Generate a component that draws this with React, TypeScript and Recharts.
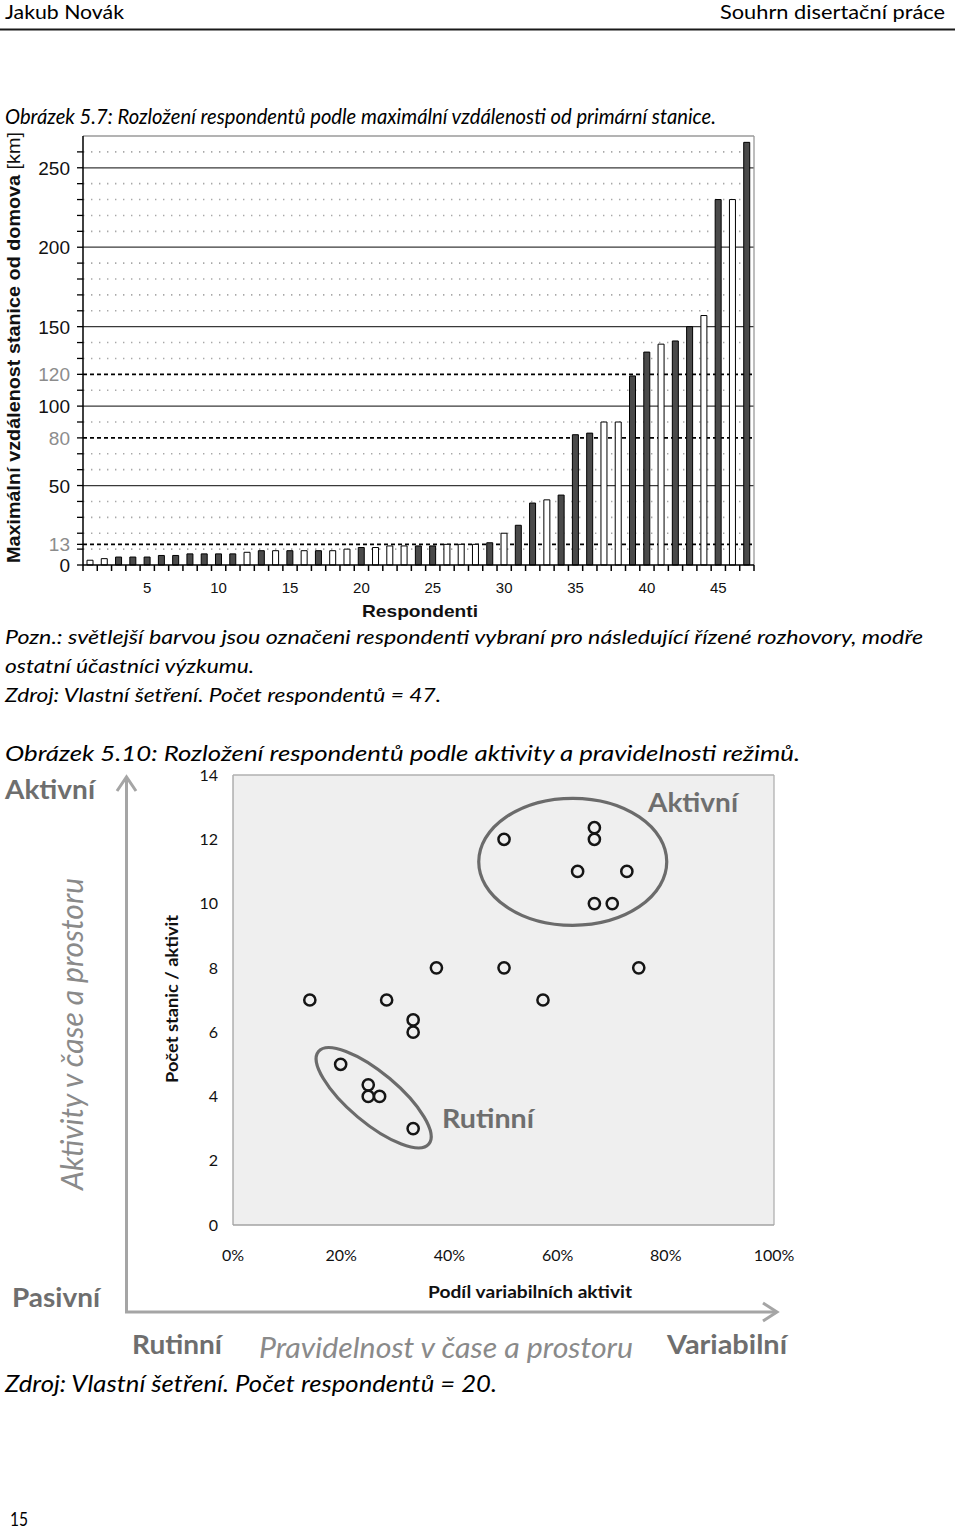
import React from 'react';
import {
  BarChart, Bar, XAxis, YAxis, Cell, ReferenceLine, CartesianGrid,
  ScatterChart, Scatter, ReferenceDot,
} from 'recharts';

// ---------- Figure 5.7 data ----------
const respondents = [
  1, 2, 3, 4, 5, 6, 7, 8, 9, 10, 11, 12, 13, 14, 15, 16, 17, 18, 19, 20, 21, 22, 23, 24,
  25, 26, 27, 28, 29, 30, 31, 32, 33, 34, 35, 36, 37, 38, 39, 40, 41, 42, 43, 44, 45, 46, 47,
];
const maxDistanceKm = [
  3, 4, 5, 5, 5, 6, 6, 7, 7, 7, 7, 8, 9, 9, 9, 9, 9, 9, 10, 11, 11, 12, 12, 12,
  12, 13, 13, 13, 14, 20, 25, 39, 41, 44, 82, 83, 90, 90, 119, 134, 139, 141, 150, 157, 230, 230, 266,
];
// L = lighter (selected for interviews), D = other participants
const interviewGroup = [
  'L', 'L', 'D', 'D', 'D', 'D', 'D', 'D', 'D', 'D', 'D', 'L', 'D', 'L', 'D', 'L', 'D', 'L', 'L', 'D', 'L', 'L', 'L', 'D',
  'D', 'L', 'L', 'L', 'D', 'L', 'D', 'D', 'L', 'D', 'D', 'D', 'L', 'L', 'D', 'D', 'L', 'D', 'D', 'L', 'D', 'L', 'D',
];
const barYLabels = [0, 13, 50, 80, 100, 120, 150, 200, 250];
const barYTicks = [0, 10, 13, 20, 30, 40, 50, 60, 70, 80, 90, 100, 110, 120, 130, 140, 150, 160, 170, 180, 190, 200, 210, 220, 230, 240, 250, 260];
const solidLevels = [50, 100, 150, 200, 250];
const dashedLevels = [13, 80, 120];
const dottedLevels = [10, 20, 30, 40, 60, 70, 90, 110, 130, 140, 160, 170, 180, 190, 210, 220, 230, 240, 260];
const barXLabels = [5, 10, 15, 20, 25, 30, 35, 40, 45];
const barYMax = 270;

// ---------- Figure 5.10 data ----------
const variableShare = [14.2, 28.4, 33.3, 33.3, 37.6, 19.9, 25.0, 25.0, 27.1, 33.3, 50.1, 66.8, 66.8, 63.7, 72.8, 66.8, 70.1, 50.1, 75.0, 57.3];
const stationCount = [7, 7, 6.38, 6, 8, 5, 4.36, 4, 4, 3, 12, 12.36, 12, 11, 11, 10, 10, 8, 8, 7];
const scatterXTicks = [0, 20, 40, 60, 80, 100];
const scatterYTicks = [0, 2, 4, 6, 8, 10, 12, 14];
const clusterNames = ['Aktivní', 'Rutinní'];
const clusterCenterX = [62.8, 26.0];
const clusterCenterY = [11.3, 3.96];

const barData = respondents.map((n, i) => ({ n, km: maxDistanceKm[i], group: interviewGroup[i] }));
const barXTicks = [...respondents.map((n) => n - 0.5), respondents[respondents.length - 1] + 0.5, ...barXLabels];
const scatterData = variableShare.map((x, i) => ({ x, y: stationCount[i] }));

const ARIAL = '"Liberation Sans", Arial, sans-serif';
const CAL = 'Lato, "Open Sans", sans-serif';

const BarYTick = (props: any) => {
  const { x, y, payload } = props;
  const v = payload.value;
  if (!barYLabels.includes(v)) return null;
  return (
    <text x={x} y={y} dy={7} textAnchor="end" fontSize={19} fontFamily={ARIAL}
      fill={dashedLevels.includes(v) ? '#8c8c8c' : '#111'}>{v}</text>
  );
};

const BarXTick = (props: any) => {
  const { x, y, payload } = props;
  const v = payload.value;
  if (v % 1 !== 0) {
    return <line x1={x} x2={x} y1={y} y2={y + 6} stroke="#000" strokeWidth={1.5} />;
  }
  return (
    <text x={x} y={y + 28} textAnchor="middle" fontSize={15} fontFamily={ARIAL} fill="#111">{v}</text>
  );
};

const RingShape = (props: any) => {
  const { cx, cy } = props;
  if (cx == null || cy == null) return null;
  return <circle cx={cx} cy={cy} r={5.6} fill="none" stroke="#151515" strokeWidth={2.5} />;
};

const ellipseShape = (rx: number, ry: number, angle: number) => (props: any) => {
  const { cx, cy } = props;
  if (cx == null || cy == null) return null;
  return (
    <ellipse cx={cx} cy={cy} rx={rx} ry={ry} transform={`rotate(${angle} ${cx} ${cy})`}
      fill="none" stroke="#6b6b6b" strokeWidth={3.2} />
  );
};

type TP = {
  x: number; y: number; w: number; size: number; weight?: number; italic?: boolean;
  color?: string; family?: string; rotate?: boolean; children: React.ReactNode;
};
const T = ({ x, y, w, size, weight = 400, italic = false, color = '#000', family = CAL, rotate = false, children }: TP) => (
  <text x={x} y={y} textLength={w} lengthAdjust="spacingAndGlyphs" fontSize={size}
    fontWeight={weight} fontStyle={italic ? 'italic' : 'normal'} fill={color} fontFamily={family}
    transform={rotate ? `rotate(-90 ${x} ${y})` : undefined}>{children}</text>
);

export default function App() {
  const gray = '#6e6e6e';
  const light = '#8a8a8a';
  const arrow = '#a5a5a5';
  const under = { zIndex: -10 } as any;
  return (
    <div style={{ position: 'absolute', left: 0, top: 0, width: 960, height: 1530, background: '#fff', overflow: 'hidden' }}>
      {/* Figure 5.7 */}
      <div style={{ position: 'absolute', left: 0, top: 120 }}>
        <BarChart width={770} height={500} data={barData} margin={{ top: 16, right: 16, left: 0, bottom: 0 }}>
          <XAxis dataKey="n" type="number" domain={[0.5, 47.5]} ticks={barXTicks} interval={0}
            tick={<BarXTick />} tickLine={false} tickSize={0} tickMargin={0} height={55}
            axisLine={{ stroke: '#000', strokeWidth: 1.5 }} allowDecimals />
          <YAxis type="number" domain={[0, barYMax]} ticks={barYTicks} interval={0} width={83}
            tick={<BarYTick />} tickSize={6} tickMargin={7}
            tickLine={{ stroke: '#000', strokeWidth: 1.3 }} axisLine={{ stroke: '#000', strokeWidth: 1.5 }} />
          {dottedLevels.map((v) => (
            <ReferenceLine key={`d${v}`} y={v} stroke="#a8a8a8" strokeWidth={1.6} strokeDasharray="1.4 6.6" {...under} />
          ))}
          {solidLevels.map((v) => (
            <ReferenceLine key={`s${v}`} y={v} stroke="#3a3a3a" strokeWidth={1.3} {...under} />
          ))}
          {dashedLevels.map((v) => (
            <ReferenceLine key={`h${v}`} y={v} stroke="#000" strokeWidth={1.8} strokeDasharray="4 3" {...under} />
          ))}
          <ReferenceLine y={barYMax} stroke="#9a9a9a" strokeWidth={1.3} />
          <ReferenceLine x={47.5} stroke="#9a9a9a" strokeWidth={1.3} />
          <Bar dataKey="km" barSize={6} isAnimationActive={false} stroke="#000" strokeWidth={1}>
            {barData.map((d, i) => (
              <Cell key={i} fill={d.group === 'L' ? '#ffffff' : '#4a4a4a'} />
            ))}
          </Bar>
        </BarChart>
      </div>

      {/* Figure 5.10 */}
      <div style={{ position: 'absolute', left: 150, top: 760 }}>
        <ScatterChart width={670} height={540} margin={{ top: 15, right: 46, left: 0, bottom: 0 }}>
          <CartesianGrid horizontal={false} vertical={false} fill="#efefef" stroke="none" />
          <XAxis type="number" dataKey="x" domain={[0, 100]} ticks={scatterXTicks} interval={0}
            tickFormatter={(v: number) => `${v}%`} axisLine={false} tickLine={false} tickSize={0} tickMargin={25}
            height={75} tick={{ fontSize: 16, fill: '#111', fontFamily: CAL }} />
          <YAxis type="number" dataKey="y" domain={[0, 14]} ticks={scatterYTicks} interval={0}
            axisLine={false} tickLine={false} tickSize={0} tickMargin={15} width={83}
            tick={{ fontSize: 16, fill: '#111', fontFamily: CAL }} />
          <ReferenceLine x={0} stroke="#a3a3a3" strokeWidth={1.3} />
          <ReferenceLine x={100} stroke="#b0b0b0" strokeWidth={1.3} />
          <ReferenceLine y={0} stroke="#a3a3a3" strokeWidth={1.5} />
          <ReferenceLine y={14} stroke="#b0b0b0" strokeWidth={1.3} />
          <ReferenceDot x={clusterCenterX[0]} y={clusterCenterY[0]} shape={ellipseShape(94, 63.5, 0)} />
          <ReferenceDot x={clusterCenterX[1]} y={clusterCenterY[1]} shape={ellipseShape(72, 25, 40)} />
          <Scatter data={scatterData} isAnimationActive={false} shape={<RingShape />} />
        </ScatterChart>
      </div>

      {/* page text and decorations */}
      <svg width={960} height={1530} style={{ position: 'absolute', left: 0, top: 0, pointerEvents: 'none' }}>
        <T x={5} y={19} w={119} size={20}>Jakub Novák</T>
        <T x={720} y={19} w={225} size={20}>Souhrn disertační práce</T>
        <line x1={0} x2={955} y1={29.5} y2={29.5} stroke="#1a1a1a" strokeWidth={2} />

        <T x={5} y={124} w={711} size={21} italic>Obrázek 5.7: Rozložení respondentů podle maximální vzdálenosti od primární stanice.</T>

        <text x={20} y={563} textLength={431} lengthAdjust="spacingAndGlyphs" fontSize={18} fontFamily={ARIAL}
          fill="#111" transform="rotate(-90 20 563)">
          <tspan fontWeight={700}>Maximální vzdálenost stanice od domova</tspan>
          <tspan fontWeight={400}>{'  [km]'}</tspan>
        </text>
        <T x={362} y={617} w={116} size={17} weight={700} family={ARIAL} color="#111">Respondenti</T>

        <T x={5} y={644} w={918} size={20} italic>Pozn.: světlejší barvou jsou označeni respondenti vybraní pro následující řízené rozhovory, modře</T>
        <T x={5} y={673} w={249} size={20} italic>ostatní účastníci výzkumu.</T>
        <T x={5} y={702} w={436} size={20} italic>Zdroj: Vlastní šetření. Počet respondentů = 47.</T>

        <T x={5} y={761} w={795} size={21} italic>Obrázek 5.10: Rozložení respondentů podle aktivity a pravidelnosti režimů.</T>

        {/* conceptual axes */}
        <line x1={126.5} x2={126.5} y1={1312} y2={778} stroke={arrow} strokeWidth={3} />
        <polyline points="117,791 126.5,777 136,791" fill="none" stroke={arrow} strokeWidth={3} />
        <line x1={125} x2={776} y1={1312} y2={1312} stroke={arrow} strokeWidth={3} />
        <polyline points="763,1303 777,1312 763,1321" fill="none" stroke={arrow} strokeWidth={3} />

        <T x={5} y={799} w={90} size={27} weight={700} color={gray}>Aktivní</T>
        <T x={12} y={1307} w={88} size={27} weight={700} color={gray}>Pasivní</T>
        <T x={132} y={1354} w={90} size={27} weight={700} color={gray}>Rutinní</T>
        <T x={259} y={1358} w={374} size={29} italic color={light}>Pravidelnost v čase a prostoru</T>
        <T x={667} y={1354} w={120} size={27} weight={700} color={gray}>Variabilní</T>
        <T x={83} y={1190} w={312} size={30} italic color={light} rotate>Aktivity v čase a prostoru</T>

        <T x={648} y={812} w={90} size={27} weight={700} color={gray}>{clusterNames[0]}</T>
        <T x={442} y={1128} w={92} size={27} weight={700} color={gray}>{clusterNames[1]}</T>

        <T x={178} y={1083} w={168} size={17} weight={700} color="#111" rotate>Počet stanic / aktivit</T>
        <T x={428} y={1298} w={204} size={17} weight={700} color="#111">Podíl variabilních aktivit</T>

        <T x={5} y={1392} w={492} size={23} italic>Zdroj: Vlastní šetření. Počet respondentů = 20.</T>
        <T x={10} y={1526} w={18} size={19}>15</T>
      </svg>
    </div>
  );
}
